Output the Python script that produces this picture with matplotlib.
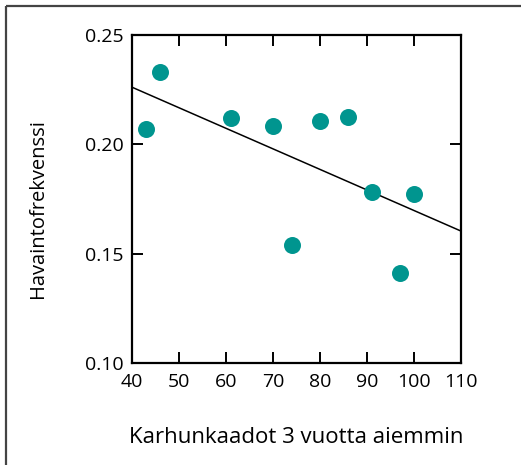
import matplotlib.pyplot as plt
import numpy as np
from matplotlib.lines import Line2D

plt.rcParams["font.family"] = ["Open Sans", "DejaVu Sans"]

# Bear kills three years earlier vs. observation frequency
kaadot = [43, 46, 61, 70, 74, 80, 86, 91, 97, 100]
frekvenssi = [0.207, 0.233, 0.212, 0.2085, 0.154, 0.2105, 0.2125, 0.178, 0.141, 0.1775]
x_ticks = [40, 50, 60, 70, 80, 90, 100, 110]
y_ticks = [0.10, 0.15, 0.20, 0.25]
y_tick_labels = ["0.10", "0.15", "0.20", "0.25"]

TEAL = "#00958f"


def main():
    fig = plt.figure(figsize=(5.21, 4.65), dpi=100)
    ax = fig.add_axes([0.2534, 0.2194, 0.6315, 0.7054])

    # outer frame, only left and top edges visible
    fig.add_artist(Line2D([0.0115, 0.0115], [0, 0.988], transform=fig.transFigure,
                          color="#444444", lw=1.6, solid_capstyle="butt"))
    fig.add_artist(Line2D([0.0115, 1.0], [0.988, 0.988], transform=fig.transFigure,
                          color="#444444", lw=1.6, solid_capstyle="butt"))

    ax.scatter(kaadot, frekvenssi, s=150, color=TEAL, zorder=3, linewidths=0)

    # least-squares line
    k, b = np.polyfit(kaadot, frekvenssi, 1)
    xs = np.array([40, 110])
    ax.plot(xs, k * xs + b, color="black", lw=1.1, zorder=2)

    ax.set_xlim(40, 110)
    ax.set_ylim(0.10, 0.25)
    ax.set_xticks(x_ticks)
    ax.set_yticks(y_ticks)
    ax.set_yticklabels(y_tick_labels)
    ax.tick_params(direction="in", length=8, width=1.4, top=True, right=True,
                   labelsize=14)
    ax.tick_params(axis="x", pad=7)
    ax.tick_params(axis="y", pad=6)
    for sp in ax.spines.values():
        sp.set_linewidth(1.6)

    ax.set_xlabel("Karhunkaadot 3 vuotta aiemmin", fontsize=16)
    ax.set_ylabel("Havaintofrekvenssi", fontsize=14.5)
    ax.xaxis.set_label_coords(0.5, -0.195)
    ax.yaxis.set_label_coords(-0.255, 0.47)

    fig.savefig("out.png", dpi=100)


if __name__ == "__main__":
    main()
